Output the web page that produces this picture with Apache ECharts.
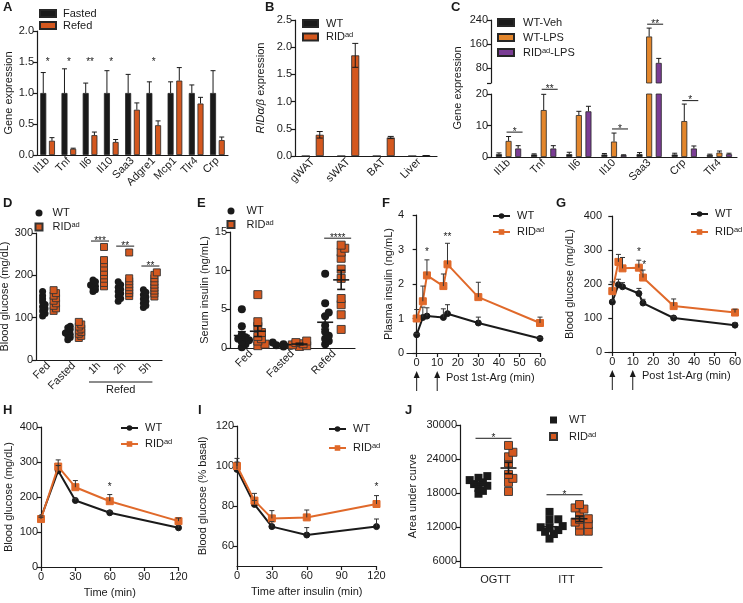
<!DOCTYPE html>
<html>
<head>
<meta charset="utf-8">
<script src="https://cdn.jsdelivr.net/npm/echarts@6/dist/echarts.min.js"></script>
<style>
  html, body { margin: 0; background: #fff; }
  #chart { width: 743px; height: 603px; }
</style>
</head>
<body>
<div id="chart"></div>
<script>
// ---- panel A: adipose gene expression, fasted vs refed ----
const catsA = ['Il1b', 'Tnf', 'Il6', 'Il10', 'Saa3', 'Adgre1', 'Mcp1', 'Tlr4', 'Crp'];
const fastedA = [1, 1, 1, 1, 1, 1, 1, 1, 1];
const fastedErrA = [0.33, 0.39, 0.16, 0.36, 0.30, 0.18, 0.18, 0.13, 0.36];
const refedA = [0.23, 0.10, 0.32, 0.21, 0.73, 0.48, 1.20, 0.83, 0.24];
const refedErrA = [0.05, 0.01, 0.05, 0.04, 0.11, 0.07, 0.21, 0.10, 0.05];
const sigA = [[0, 1.5, '*'], [1, 1.5, '*'], [2, 1.5, '**'], [3, 1.5, '*'], [5, 1.5, '*']];

// ---- panel B: RIDa/b expression ----
const catsB = ['gWAT', 'sWAT', 'BAT', 'Liver'];
const wtB = [0, 0, 0, 0];
const ridB = [0.39, 1.85, 0.34, 0.005];
const ridErrB = [0.06, 0.22, 0.02, 0.003];

// ---- panel C: LPS response (broken axis) ----
const catsC = ['Il1b', 'Tnf', 'Il6', 'Il10', 'Saa3', 'Crp', 'Tlr4'];
const vehC = [0.9, 0.8, 0.9, 0.8, 0.9, 0.8, 0.7];
const vehErrC = [0.4, 0.2, 0.6, 0.3, 0.5, 0.4, 0.2];
const lpsC = [5.1, 14.9, 13.3, 4.9, 185, 11.4, 1.4];
const lpsErrC = [1.4, 5.0, 1.2, 2.7, 28, 5.4, 0.5];
const ridC = [2.7, 2.7, 14.5, 0.6, 97, 2.7, 0.9];
const ridErrC = [0.9, 0.9, 1.6, 0.1, 15, 0.8, 0.3];
const sigCLow = [[0, 7.9, '*'], [1, 21.5, '**'], [3, 8.9, '*'], [5, 17.9, '*']];
const sigCUp = [[4, 226, '**']];
const ticksCUp = [80, 160, 240];

// ---- panel D: blood glucose, fed / fasted / refed ----
const catsD = ['Fed', 'Fasted', '1h', '2h', '5h'];
const wtD = [
  [104, 110, 116, 121, 126, 131, 137, 144, 152, 162],
  [48, 53, 57, 61, 64, 68, 72, 76, 80],
  [162, 166, 170, 174, 177, 181, 185, 189],
  [139, 145, 151, 157, 162, 167, 172, 178, 185],
  [124, 129, 134, 139, 144, 149, 154, 160, 166]
];
const ridD = [
  [116, 122, 128, 134, 140, 146, 152, 158, 165],
  [52, 57, 62, 66, 70, 74, 79, 84, 90],
  [174, 182, 192, 200, 208, 218, 228, 236, 267],
  [151, 158, 165, 172, 179, 186, 193, 254],
  [150, 157, 164, 171, 178, 185, 193, 201, 207]
];
const sigD = [[2, 281, '***'], [3, 269, '**'], [4, 222, '**']];
const refedSpanD = [2, 4];

// ---- panel E: serum insulin ----
const catsE = ['Fed', 'Fasted', 'Refed'];
const wtE = [
  [0.1, 0.5, 0.8, 1.0, 1.2, 1.4, 1.7, 2.8, 5.0],
  [0.2, 0.3, 0.35, 0.4, 0.5, 0.55, 0.7],
  [0.5, 0.9, 1.2, 1.6, 2.1, 2.9, 4.1, 4.6, 5.8, 9.6]
];
const ridE = [
  [0.3, 0.5, 0.9, 1.2, 1.5, 2.0, 2.8, 3.4, 6.9],
  [0.2, 0.3, 0.4, 0.55, 0.7, 0.9],
  [2.4, 4.3, 5.6, 6.4, 9.0, 10.2, 11.6, 12.4, 12.9, 13.3]
];
const sigE = [[2, 14.2, '****']];

// ---- panel F / G: arginine test ----
const timeArg = [0, 3, 5, 13, 15, 30, 60];
const ticksArg = [0, 10, 20, 30, 40, 50, 60];
const argShots = [0, 10];
const wtF = [0.53, 1.03, 1.07, 1.03, 1.14, 0.87, 0.42];
const wtErrF = [0.03, 0.30, 0.24, 0.25, 0.26, 0.17, 0.03];
const ridF = [1.00, 1.50, 2.25, 1.94, 2.57, 1.62, 0.87];
const ridErrF = [0.26, 0.44, 0.45, 0.35, 0.61, 0.43, 0.17];
const sigF = [[5, 2.93, '*'], [15, 3.35, '**']];
const wtG = [147, 198, 192, 172, 144, 100, 79];
const wtErrG = [6, 16, 12, 15, 11, 4, 7];
const ridG = [179, 265, 246, 248, 219, 135, 116];
const ridErrG = [27, 22, 32, 22, 22, 21, 10];
const sigG = [[13, 292, '*'], [15.6, 255, '*']];

// ---- panel H: GTT, panel I: ITT ----
const timeTol = [0, 15, 30, 60, 120];
const wtH = [141, 275, 190, 155, 112];
const wtErrH = [5, 15, 6, 5, 6];
const ridH = [137, 287, 228, 188, 131];
const ridErrH = [5, 19, 19, 19, 9];
const sigH = [[60, 228, '*']];
const wtI = [98.3, 80.8, 69.7, 65.5, 69.7];
const wtErrI = [5.5, 2.0, 2.5, 3.7, 3.8];
const ridI = [100, 82.7, 73.8, 74.3, 81.0];
const ridErrI = [2.0, 3.6, 3.9, 3.7, 4.2];
const sigI = [[120, 89.3, '*']];
const ticksI = [60, 80, 100, 120];

// ---- panel J: area under curve ----
const catsJ = ['OGTT', 'ITT'];
const wtJ = [
  [17900, 18400, 18900, 19300, 19600, 19900, 20300, 20700, 21000],
  [10000, 10800, 11200, 11500, 11800, 12000, 12200, 13300, 13400, 14700]
];
const ridJ = [
  [18300, 19900, 20600, 21300, 23300, 24400, 25200, 26400],
  [11300, 11300, 12400, 12500, 12900, 13400, 13500, 14500, 15200, 15400, 16000]
];
const sigJ = [[0, 27660, '*'], [1, 17720, '*']];
const ticksJ = [6000, 12000, 18000, 24000, 30000];

const FONT = '"Liberation Sans", Arial, sans-serif';
const BLACK = '#1a1a1a';
const ORANGE = '#d4581f';
const ORANGE_LINE = '#e0692a';
const ORANGE_C = '#e3862c';
const PURPLE = '#7a3d94';

const chart = echarts.init(document.getElementById('chart'));

// оси
function catX(gi, cats, extra) {
  return Object.assign({
    type: 'category', gridIndex: gi, data: cats, boundaryGap: true,
    axisLine: { lineStyle: { color: BLACK, width: 1.2 } },
    axisTick: { alignWithLabel: true, length: 4, lineStyle: { color: BLACK, width: 1.2 } },
    axisLabel: { color: BLACK, fontFamily: FONT, fontSize: 11, rotate: 45, margin: 4, interval: 0 },
    splitLine: { show: false }
  }, extra || {});
}

function valAxis(gi, min, max, extra) {
  const ax = {
    type: 'value', gridIndex: gi, min: min, max: max,
    axisLine: { show: true, lineStyle: { color: BLACK, width: 1.2 } },
    axisTick: { show: true, length: 4, lineStyle: { color: BLACK, width: 1.2 } },
    axisLabel: { color: BLACK, fontFamily: FONT, fontSize: 11, margin: 3 },
    splitLine: { show: false },
    nameLocation: 'middle',
    nameTextStyle: { color: BLACK, fontFamily: FONT, fontSize: 11 }
  };
  if (extra) {
    Object.keys(extra).forEach(k => {
      if (typeof extra[k] === 'object' && !Array.isArray(extra[k]) && ax[k]) {
        ax[k] = Object.assign({}, ax[k], extra[k]);
      } else {
        ax[k] = extra[k];
      }
    });
  }
  return ax;
}

function barSeries(gi, name, data, color, width, gap) {
  return {
    type: 'bar', name: name, xAxisIndex: gi, yAxisIndex: gi, data: data,
    barWidth: width, barGap: gap,
    itemStyle: { color: color, borderColor: '#262626', borderWidth: 0.8 }
  };
}

// планки погрешностей
function errSeries(gi, xs, ys, errs, opt) {
  const data = [];
  ys.forEach((y, i) => {
    if (y !== '-' && errs[i] !== '-') data.push([xs[i], y, errs[i]]);
  });
  return {
    type: 'custom', xAxisIndex: gi, yAxisIndex: gi, z: 5, silent: true, clip: !!opt.clip,
    data: data,
    renderItem: function (params, api) {
      const x = api.value(0), y = api.value(1), e = api.value(2);
      const p = api.coord([x, y]);
      const t = api.coord([x, y + e]);
      const b = opt.both ? api.coord([x, y - e]) : p;
      const cx = p[0] + (opt.dx || 0);
      const w = (opt.cap || 5) / 2;
      const style = { stroke: opt.color || BLACK, lineWidth: opt.width || 1 };
      const kids = [
        { type: 'line', shape: { x1: cx, y1: b[1], x2: cx, y2: t[1] }, style: style },
        { type: 'line', shape: { x1: cx - w, y1: t[1], x2: cx + w, y2: t[1] }, style: style }
      ];
      if (opt.both) kids.push({ type: 'line', shape: { x1: cx - w, y1: b[1], x2: cx + w, y2: b[1] }, style: style });
      return { type: 'group', children: kids };
    }
  };
}

function sigSeries(gi, items, x1, x2, fontSize) {
  return {
    type: 'custom', xAxisIndex: gi, yAxisIndex: gi, z: 7, silent: true, clip: false,
    data: items.map(d => [d[0], d[1]]),
    renderItem: function (params, api) {
      const p = api.coord([api.value(0), api.value(1)]);
      const text = items[params.dataIndex][2];
      const kids = [];
      let cx = p[0];
      if (x1 !== null) {
        kids.push({ type: 'line', shape: { x1: p[0] + x1, y1: p[1], x2: p[0] + x2, y2: p[1] },
          style: { stroke: BLACK, lineWidth: 1 } });
        cx = p[0] + (x1 + x2) / 2;
      }
      kids.push({ type: 'text', x: cx, y: p[1] + 5,
        style: { text: text, fill: BLACK, fontSize: fontSize || 10, fontFamily: FONT,
          align: 'center', verticalAlign: 'bottom' } });
      return { type: 'group', children: kids };
    }
  };
}

// раскладка точек (beeswarm): step и thr в долях размера символа
function swarm(values, pxPerUnit, size, step, thr) {
  const order = values.map((v, i) => i).sort((a, b) => values[a] - values[b]);
  const placed = [];
  const offs = new Array(values.length).fill(0);
  const cand = [0, 1, -1, 2, -2, 3, -3];
  order.forEach(i => {
    const y = values[i] * pxPerUnit;
    for (const c of cand) {
      const x = c * size * step;
      if (placed.every(p => Math.hypot(p[0] - x, p[1] - y) >= size * thr)) {
        offs[i] = x; placed.push([x, y]); return;
      }
    }
    placed.push([0, y]);
  });
  return offs;
}

function dotSeries(gi, name, groups, pxPerUnit, dx, symbol, size, color, border, spread) {
  const data = [];
  groups.forEach((vals, c) => {
    const offs = swarm(vals, pxPerUnit, size, spread[0], spread[1]);
    vals.forEach((v, k) => data.push({ value: [c, v], symbolOffset: [dx + offs[k], 0] }));
  });
  return {
    type: 'scatter', name: name, xAxisIndex: gi, yAxisIndex: gi, symbol: symbol, symbolSize: size,
    data: data, z: 3,
    itemStyle: { color: color, opacity: 1, borderColor: border || color, borderWidth: border ? 0.9 : 0 }
  };
}

function meanSemSeries(gi, groups, dx) {
  const data = groups.map((vals, c) => {
    const n = vals.length;
    const m = vals.reduce((a, b) => a + b, 0) / n;
    const sd = Math.sqrt(vals.reduce((a, b) => a + (b - m) * (b - m), 0) / (n - 1));
    return [c, m, sd / Math.sqrt(n)];
  });
  return {
    type: 'custom', xAxisIndex: gi, yAxisIndex: gi, z: 6, silent: true, data: data,
    renderItem: function (params, api) {
      const c = api.value(0), m = api.value(1), s = api.value(2);
      const p = api.coord([c, m]), hi = api.coord([c, m + s]), lo = api.coord([c, m - s]);
      const x = p[0] + dx;
      const st = { stroke: BLACK, lineWidth: 1.6 };
      return { type: 'group', children: [
        { type: 'line', shape: { x1: x - 8, y1: p[1], x2: x + 8, y2: p[1] }, style: st },
        { type: 'line', shape: { x1: x, y1: hi[1], x2: x, y2: lo[1] }, style: st },
        { type: 'line', shape: { x1: x - 4, y1: hi[1], x2: x + 4, y2: hi[1] }, style: st },
        { type: 'line', shape: { x1: x - 4, y1: lo[1], x2: x + 4, y2: lo[1] }, style: st }
      ] };
    }
  };
}

function lineSeries(gi, name, xs, ys, color, symbol, size) {
  return {
    type: 'line', name: name, xAxisIndex: gi, yAxisIndex: gi,
    data: xs.map((x, i) => [x, ys[i]]),
    symbol: symbol, symbolSize: size, showSymbol: true,
    lineStyle: { color: color, width: 2 },
    itemStyle: { color: color, borderColor: color }, z: symbol === 'rect' ? 4 : 3
  };
}

function arrowSeries(gi, times) {
  return {
    type: 'custom', xAxisIndex: gi, yAxisIndex: gi, silent: true, clip: false,
    data: times.map(t => [t, 0]),
    renderItem: function (params, api) {
      const p = api.coord([api.value(0), 0]);
      const x = p[0], tip = p[1] + 18, tail = p[1] + 38;
      return { type: 'group', children: [
        { type: 'line', shape: { x1: x, y1: tip + 4, x2: x, y2: tail }, style: { stroke: BLACK, lineWidth: 1 } },
        { type: 'polygon', shape: { points: [[x, tip], [x - 3, tip + 7], [x + 3, tip + 7]] }, style: { fill: BLACK } }
      ] };
    }
  };
}

function legendOf(left, top, names, opt) {
  return Object.assign({
    left: left, top: top, orient: 'vertical', data: names, padding: 0,
    selectedMode: false, itemGap: 2, itemWidth: 16, itemHeight: 7,
    formatter: name => name.slice(2).replace('^ad', '{s|ad}'),
    textStyle: {
      color: BLACK, fontFamily: FONT, fontSize: 11, lineHeight: 12, padding: [0, 0, 0, 2],
      rich: { s: { fontSize: 7.5, fontFamily: FONT, color: BLACK, verticalAlign: 'top', lineHeight: 8 } }
    }
  }, opt || {});
}

const idx = arr => arr.map((v, i) => i);
const upC = arr => arr.map(v => (v > 20 ? v : '-'));
const lowC = arr => arr.map(v => Math.min(v, 25));

const option = {
  backgroundColor: '#fff',
  animation: false,
  textStyle: { fontFamily: FONT },
  grid: [
    { left: 37, top: 31, width: 191, height: 124 },
    { left: 295, top: 20, width: 142, height: 136 },
    { left: 491, top: 20, width: 246, height: 63 },
    { left: 491, top: 94, width: 246, height: 63 },
    { left: 36, top: 233, width: 126, height: 127 },
    { left: 230, top: 232, width: 125, height: 116 },
    { left: 407, top: 215, width: 133, height: 138 },
    { left: 605, top: 216, width: 130, height: 136 },
    { left: 41, top: 427, width: 137.5, height: 140 },
    { left: 237, top: 426, width: 139.5, height: 140 },
    { left: 460, top: 425, width: 142, height: 142 }
  ].map(g => Object.assign(g, { outerBoundsMode: 'none', containLabel: false })),
  xAxis: [
    catX(0, catsA),
    catX(1, catsB),
    catX(2, catsC, { show: false }),
    catX(3, catsC),
    catX(4, catsD),
    catX(5, catsE),
    valAxis(6, -4.7, 60, { axisLabel: { customValues: ticksArg, margin: 4 }, axisTick: { customValues: ticksArg } }),
    valAxis(7, -3.57, 60, { axisLabel: { customValues: ticksArg, margin: 4 }, axisTick: { customValues: ticksArg } }),
    valAxis(8, 0, 120, { interval: 30, name: 'Time (min)', nameGap: 20, axisLabel: { margin: 4 } }),
    valAxis(9, 0, 120, { interval: 30, name: 'Time after insulin (min)', nameGap: 20, axisLabel: { margin: 4 } }),
    catX(10, catsJ, { axisLabel: { color: BLACK, fontFamily: FONT, fontSize: 11, rotate: 0, margin: 7 } })
  ],
  yAxis: [
    valAxis(0, 0, 2, { interval: 0.5, name: 'Gene expression', nameGap: 21,
      axisLabel: { formatter: v => v.toFixed(1) } }),
    valAxis(1, 0, 2.5, { interval: 0.5, name: '{i|RIDα/β} expression', nameGap: 29,
      axisLabel: { formatter: v => v.toFixed(1) },
      nameTextStyle: { rich: { i: { fontStyle: 'italic', fontSize: 11, fontFamily: FONT, color: BLACK } } } }),
    valAxis(2, 30, 240, { axisLabel: { customValues: ticksCUp }, axisTick: { customValues: [30].concat(ticksCUp) } }),
    valAxis(3, 0, 20, { interval: 10 }),
    valAxis(4, 0, 300, { interval: 100, name: 'Blood glucose (mg/dL)', nameGap: 23 }),
    valAxis(5, 0, 15, { interval: 5, name: 'Serum insulin (ng/mL)', nameGap: 18 }),
    valAxis(6, 0, 4, { interval: 1, name: 'Plasma insulin (ng/mL)', nameGap: 13 }),
    valAxis(7, 0, 400, { interval: 100, name: 'Blood glucose (mg/dL)', nameGap: 30 }),
    valAxis(8, 0, 400, { interval: 100, name: 'Blood glucose (mg/dL)', nameGap: 27 }),
    valAxis(9, 50, 120, { name: 'Blood glucose (% basal)', nameGap: 29,
      axisLabel: { customValues: ticksI }, axisTick: { customValues: ticksI } }),
    valAxis(10, 5000, 30000, { name: 'Area under curve', nameGap: 42,
      axisLabel: { customValues: ticksJ, formatter: v => String(v) }, axisTick: { customValues: ticksJ } })
  ],
  legend: [
    legendOf(39, 7.5, ['A_Fasted', 'A_Refed'], { icon: 'rect', itemGap: 0 }),
    legendOf(302, 17.5, ['B_WT', 'B_RID^ad'], { icon: 'rect', itemWidth: 15, itemGap: 1.5,
      textStyle: Object.assign({}, legendOf().textStyle, { padding: [0, 0, 0, 3] }) }),
    legendOf(497, 16.5, ['C_WT-Veh', 'C_WT-LPS', 'C_RID^ad-LPS'], { icon: 'rect', itemGap: 3,
      textStyle: Object.assign({}, legendOf().textStyle, { padding: [0, 0, 0, 4] }) }),
    legendOf(34.5, 207, ['D_WT', 'D_RID^ad'], { itemWidth: 7, itemHeight: 7, itemGap: 2,
      textStyle: Object.assign({}, legendOf().textStyle, { padding: [0, 0, 0, 5] }) }),
    legendOf(226.5, 205, ['E_WT', 'E_RID^ad'], { itemWidth: 7, itemHeight: 7, itemGap: 1.5,
      textStyle: Object.assign({}, legendOf().textStyle, { padding: [0, 0, 0, 7] }) }),
    legendOf(492, 210, ['F_WT', 'F_RID^ad'], { itemWidth: 17, itemGap: 4 }),
    legendOf(690, 208, ['G_WT', 'G_RID^ad'], { itemWidth: 17, itemGap: 6 }),
    legendOf(120, 422, ['H_WT', 'H_RID^ad'], { itemWidth: 17, itemGap: 4 }),
    legendOf(328, 423, ['I_WT', 'I_RID^ad'], { itemWidth: 17, itemGap: 7 }),
    legendOf(549, 414, ['J_WT', 'J_RID^ad'], { itemWidth: 7, itemHeight: 7, itemGap: 4.5,
      textStyle: Object.assign({}, legendOf().textStyle, { padding: [0, 0, 0, 7] }) })
  ],
  graphic: [
    ['A', 3, 1], ['B', 265, 1], ['C', 451, 1], ['D', 3, 197], ['E', 197, 197], ['F', 382, 197],
    ['G', 556, 197], ['H', 3, 404], ['I', 198, 404], ['J', 405, 404]
  ].map(l => ({ type: 'text', left: l[1], top: l[2],
    style: { text: l[0], fill: BLACK, font: 'bold 13px ' + FONT } })).concat([
    { type: 'text', x: 458, y: 88, rotation: Math.PI / 2,
      style: { text: 'Gene expression', fill: BLACK, fontSize: 11, fontFamily: FONT, align: 'center', verticalAlign: 'middle' } },
    { type: 'text', left: 446, top: 372,
      style: { text: 'Post 1st-Arg (min)', fill: BLACK, fontSize: 11, fontFamily: FONT } },
    { type: 'text', left: 642, top: 370,
      style: { text: 'Post 1st-Arg (min)', fill: BLACK, fontSize: 11, fontFamily: FONT } }
  ]),
  series: [
    // A
    barSeries(0, 'A_Fasted', fastedA, BLACK, 6, '45%'),
    barSeries(0, 'A_Refed', refedA, ORANGE, 6, '45%'),
    errSeries(0, idx(catsA), fastedA, fastedErrA, { dx: -4.35, cap: 5 }),
    errSeries(0, idx(catsA), refedA, refedErrA, { dx: 4.35, cap: 5 }),
    sigSeries(0, sigA, null, null, 10),
    // B
    barSeries(1, 'B_WT', wtB, BLACK, 8, '75%'),
    barSeries(1, 'B_RID^ad', ridB, ORANGE, 8, '75%'),
    errSeries(1, idx(catsB), ridB, ridErrB, { dx: 7, cap: 6, both: true }),
    // C upper
    barSeries(2, 'C_up_veh', upC(vehC), BLACK, 6, '60%'),
    barSeries(2, 'C_up_lps', upC(lpsC), ORANGE_C, 6, '60%'),
    barSeries(2, 'C_up_rid', upC(ridC), PURPLE, 6, '60%'),
    errSeries(2, idx(catsC), upC(lpsC), lpsErrC, { dx: 0, cap: 5 }),
    errSeries(2, idx(catsC), upC(ridC), ridErrC, { dx: 9.6, cap: 5 }),
    sigSeries(2, sigCUp, -2, 14, 10),
    // C lower
    barSeries(3, 'C_WT-Veh', lowC(vehC), BLACK, 6, '60%'),
    barSeries(3, 'C_WT-LPS', lowC(lpsC), ORANGE_C, 6, '60%'),
    barSeries(3, 'C_RID^ad-LPS', lowC(ridC), PURPLE, 6, '60%'),
    errSeries(3, idx(catsC), vehC, vehErrC, { dx: -9.6, cap: 5 }),
    errSeries(3, idx(catsC), lpsC.map(v => (v > 20 ? '-' : v)), lpsErrC, { dx: 0, cap: 5 }),
    errSeries(3, idx(catsC), ridC.map(v => (v > 20 ? '-' : v)), ridErrC, { dx: 9.6, cap: 5 }),
    sigSeries(3, sigCLow, -2, 14, 10),
    // D
    dotSeries(4, 'D_WT', wtD, 127 / 300, -6, 'circle', 7, BLACK, null, [0.35, 0.4]),
    dotSeries(4, 'D_RID^ad', ridD, 127 / 300, 5, 'rect', 7, ORANGE, '#333', [0.35, 0.4]),
    sigSeries(4, sigD, -8, 10, 10),
    {
      type: 'custom', xAxisIndex: 4, yAxisIndex: 4, silent: true, clip: false,
      data: [[refedSpanD[0], 0, refedSpanD[1]]],
      renderItem: function (params, api) {
        const a = api.coord([api.value(0), 0]);
        const b = api.coord([api.value(2), 0]);
        const y = a[1] + 22, x1 = a[0] - 10, x2 = b[0] + 3;
        return { type: 'group', children: [
          { type: 'line', shape: { x1: x1, y1: y, x2: x2, y2: y }, style: { stroke: BLACK, lineWidth: 1.2 } },
          { type: 'text', x: (x1 + x2) / 2, y: y + 2,
            style: { text: 'Refed', fill: BLACK, fontSize: 11, fontFamily: FONT, align: 'center', verticalAlign: 'top' } }
        ] };
      }
    },
    // E
    dotSeries(5, 'E_WT', wtE, 116 / 15, -9, 'circle', 8, BLACK, null, [0.45, 0.5]),
    dotSeries(5, 'E_RID^ad', ridE, 116 / 15, 7, 'rect', 8, ORANGE, '#333', [0.45, 0.5]),
    meanSemSeries(5, wtE, -9),
    meanSemSeries(5, ridE, 7),
    sigSeries(5, sigE, -10, 17, 10),
    // F
    lineSeries(6, 'F_WT', timeArg, wtF, BLACK, 'circle', 6),
    lineSeries(6, 'F_RID^ad', timeArg, ridF, ORANGE_LINE, 'rect', 7),
    errSeries(6, timeArg, wtF, wtErrF, { cap: 5, color: '#333' }),
    errSeries(6, timeArg, ridF, ridErrF, { cap: 5, color: '#333' }),
    sigSeries(6, sigF, null, null, 10),
    arrowSeries(6, argShots),
    // G
    lineSeries(7, 'G_WT', timeArg, wtG, BLACK, 'circle', 6),
    lineSeries(7, 'G_RID^ad', timeArg, ridG, ORANGE_LINE, 'rect', 7),
    errSeries(7, timeArg, wtG, wtErrG, { cap: 5, color: '#333' }),
    errSeries(7, timeArg, ridG, ridErrG, { cap: 5, color: '#333' }),
    sigSeries(7, sigG, null, null, 10),
    arrowSeries(7, argShots),
    // H
    lineSeries(8, 'H_WT', timeTol, wtH, BLACK, 'circle', 6),
    lineSeries(8, 'H_RID^ad', timeTol, ridH, ORANGE_LINE, 'rect', 7),
    errSeries(8, timeTol, wtH, wtErrH, { cap: 5, color: '#333' }),
    errSeries(8, timeTol, ridH, ridErrH, { cap: 5, color: '#333' }),
    sigSeries(8, sigH, null, null, 10),
    // I
    lineSeries(9, 'I_WT', timeTol, wtI, BLACK, 'circle', 6),
    lineSeries(9, 'I_RID^ad', timeTol, ridI, ORANGE_LINE, 'rect', 7),
    errSeries(9, timeTol, wtI, wtErrI, { cap: 5, color: '#333' }),
    errSeries(9, timeTol, ridI, ridErrI, { cap: 5, color: '#333' }),
    sigSeries(9, sigI, null, null, 10),
    // J
    dotSeries(10, 'J_WT', wtJ, 142 / 25000, -17, 'rect', 8, BLACK, null, [0.55, 0.65]),
    dotSeries(10, 'J_RID^ad', ridJ, 142 / 25000, 13, 'rect', 8, ORANGE, '#333', [0.55, 0.65]),
    meanSemSeries(10, wtJ, -17),
    meanSemSeries(10, ridJ, 13),
    sigSeries(10, sigJ, -20, 16, 10)
  ]
};

chart.setOption(option);
</script>
</body>
</html>
